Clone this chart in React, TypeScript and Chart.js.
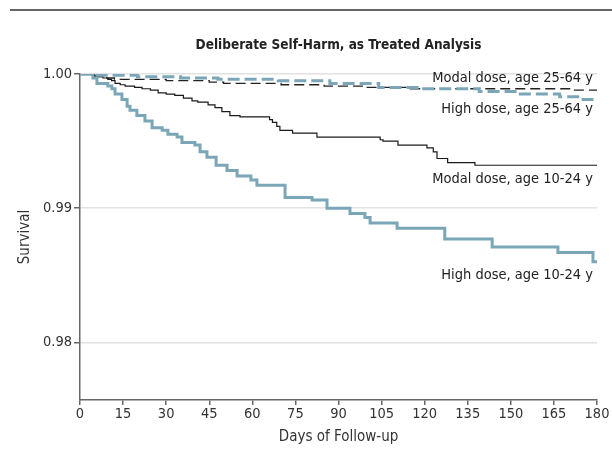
import React, { useEffect, useRef } from "react";
import { Chart, registerables } from "chart.js";

Chart.register(...registerables);

// Days of follow-up / survival values (Kaplan-Meier steps)
const modalYoungDays = [0, 5, 6.3, 8, 9.7, 11, 12.2, 14, 15.7, 19, 21.6, 24.5, 27.2, 30, 33, 36, 39, 41, 44.6, 47, 49.4, 52.2, 55.7, 66, 67, 68.5, 69.6, 74, 82.5, 104.5, 105.5, 110.7, 120.8, 123, 124.3, 128, 137.5, 180];
const modalYoungSurv = [1.0, 0.9999, 0.9998, 0.9997, 0.9996, 0.9995, 0.9993, 0.9992, 0.9991, 0.999, 0.9989, 0.9988, 0.9986, 0.9985, 0.9984, 0.9982, 0.998, 0.9979, 0.9977, 0.9975, 0.9972, 0.9969, 0.9968, 0.9966, 0.9964, 0.9961, 0.9958, 0.9956, 0.9953, 0.9951, 0.995, 0.9947, 0.9945, 0.9942, 0.9937, 0.9934, 0.9932, 0.9932];

const highYoungDays = [0, 4.5, 5.9, 9.7, 11.1, 12.2, 14.6, 16.4, 17.4, 19.8, 22.6, 25.1, 28.6, 30.6, 33.8, 35.5, 40, 41.8, 44.2, 47.4, 51.2, 54.7, 59.5, 61.6, 71.4, 80.8, 86, 94, 99.2, 101, 110.4, 127, 143.5, 166.4, 178.6, 180];
const highYoungSurv = [1.0, 0.9997, 0.9993, 0.9991, 0.9989, 0.9985, 0.9981, 0.9976, 0.9973, 0.9969, 0.9965, 0.996, 0.9958, 0.9955, 0.9953, 0.9949, 0.9947, 0.9942, 0.9938, 0.9932, 0.9928, 0.9924, 0.9921, 0.9917, 0.9908, 0.9906, 0.99, 0.9896, 0.9893, 0.9889, 0.9885, 0.9877, 0.9871, 0.9867, 0.986, 0.986];

const modalAdultDays = [0, 4, 8, 12, 30, 45, 50, 70, 85, 100, 115, 171.7, 180];
const modalAdultSurv = [1.0, 0.9998, 0.9997, 0.9996, 0.9995, 0.9994, 0.9993, 0.9992, 0.9991, 0.999, 0.9989, 0.9988, 0.9988];

const highAdultDays = [0, 5, 20, 35, 48, 69, 87, 104, 119, 139, 152, 167, 174, 180];
const highAdultSurv = [1.0, 0.9999, 0.9998, 0.9997, 0.9996, 0.9995, 0.9993, 0.999, 0.9989, 0.9987, 0.9985, 0.9983, 0.9981, 0.9981];

const seriesLabels = ["Modal dose, age 25-64 y", "High dose, age 25-64 y", "Modal dose, age 10-24 y", "High dose, age 10-24 y"];
const xTicks = [0, 15, 30, 45, 60, 75, 90, 105, 120, 135, 150, 165, 180];
const yTicks = [0.98, 0.99, 1.0];

const chartTitle = "Deliberate Self-Harm, as Treated Analysis";
const xTitle = "Days of Follow-up";
const yTitle = "Survival";

const FONT = "'DejaVu Sans Condensed', 'DejaVu Sans', sans-serif";
const TEAL = "#7ba6b7";

const toPoints = (xs: number[], ys: number[]) => xs.map((x, i) => ({ x, y: ys[i] }));

export default function App() {
  const ref = useRef<HTMLCanvasElement | null>(null);

  useEffect(() => {
    if (!ref.current) return;
    const annot = {
      id: "annot",
      afterDraw(chart: any) {
        const { ctx, chartArea, scales } = chart;
        const ys = scales.y;
        ctx.save();
        // top rule
        ctx.strokeStyle = "#666";
        ctx.lineWidth = 2;
        ctx.beginPath();
        ctx.moveTo(10, 10);
        ctx.lineTo(612, 10);
        ctx.stroke();
        // title
        ctx.fillStyle = "#222";
        ctx.font = `bold 13.5px ${FONT}`;
        ctx.textAlign = "center";
        ctx.textBaseline = "middle";
        ctx.fillText(chartTitle, (chartArea.left + chartArea.right) / 2, 45);
        // axis titles
        ctx.font = `15px ${FONT}`;
        ctx.fillStyle = "#333";
        ctx.fillText(xTitle, (chartArea.left + chartArea.right) / 2, 437);
        ctx.save();
        ctx.translate(25, (chartArea.top + chartArea.bottom) / 2);
        ctx.rotate(-Math.PI / 2);
        ctx.fillText(yTitle, 0, 0);
        ctx.restore();
        // series labels
        ctx.font = `14.5px ${FONT}`;
        ctx.fillStyle = "#222";
        ctx.textAlign = "right";
        const rx = chartArea.right - 4;
        const last = (a: number[]) => a[a.length - 1];
        ctx.fillText(seriesLabels[0], rx, ys.getPixelForValue(last(modalAdultSurv)) - 12);
        ctx.fillText(seriesLabels[1], rx, ys.getPixelForValue(last(highAdultSurv)) + 10);
        ctx.fillText(seriesLabels[2], rx, ys.getPixelForValue(last(modalYoungSurv)) + 14);
        ctx.fillText(seriesLabels[3], rx, ys.getPixelForValue(last(highYoungSurv)) + 13);
        ctx.restore();
      },
    };

    const chart = new Chart(ref.current, {
      type: "line",
      data: {
        datasets: [
          {
            data: toPoints(highYoungDays, highYoungSurv),
            borderColor: TEAL,
            borderWidth: 3,
            stepped: "before",
            pointRadius: 0,
            fill: false,
          },
          {
            data: toPoints(highAdultDays, highAdultSurv),
            borderColor: TEAL,
            borderWidth: 3,
            borderDash: [12, 5],
            stepped: "before",
            pointRadius: 0,
            fill: false,
          },
          {
            data: toPoints(modalYoungDays, modalYoungSurv),
            borderColor: "#1a1a1a",
            borderWidth: 1.2,
            stepped: "before",
            pointRadius: 0,
            fill: false,
          },
          {
            data: toPoints(modalAdultDays, modalAdultSurv),
            borderColor: "#222",
            borderWidth: 1.3,
            borderDash: [10, 5],
            stepped: "before",
            pointRadius: 0,
            fill: false,
          },
        ] as any,
      },
      plugins: [annot as any],
      options: {
        animation: false,
        responsive: false,
        maintainAspectRatio: false,
        layout: { padding: { left: 0, right: 15, top: 74, bottom: 0 } },
        plugins: { legend: { display: false }, tooltip: { enabled: false }, title: { display: false } },
        scales: {
          x: {
            type: "linear",
            min: 0,
            max: 180,
            afterBuildTicks: (s: any) => {
              s.ticks = xTicks.map((v) => ({ value: v }));
            },
            afterFit: (s: any) => {
              s.height = 68;
            },
            ticks: { color: "#333", font: { family: FONT, size: 14.5 }, padding: 1, maxRotation: 0, autoSkip: false },
            grid: { drawOnChartArea: false, tickLength: 5, color: "#666", lineWidth: 1.5 },
            border: { color: "#666", width: 1.5 },
          },
          y: {
            type: "linear",
            min: 0.9757,
            max: 1.0,
            afterBuildTicks: (s: any) => {
              s.ticks = yTicks.map((v) => ({ value: v }));
            },
            afterFit: (s: any) => {
              s.width = 80;
            },
            ticks: {
              color: "#333",
              font: { family: FONT, size: 14.5 },
              padding: 2,
              callback: (v: any) => Number(v).toFixed(2),
            },
            grid: { color: "#e2e2e2", lineWidth: 1.5, tickLength: 6, tickColor: "#666", drawTicks: true },
            border: { color: "#666", width: 1.5 },
          },
        },
      } as any,
    });
    return () => chart.destroy();
  }, []);

  return (
    <div style={{ position: "fixed", left: 0, top: 0, width: 612, height: 468, background: "#fff" }}>
      <canvas ref={ref} width={612} height={468} style={{ width: 612, height: 468 }} />
    </div>
  );
}
